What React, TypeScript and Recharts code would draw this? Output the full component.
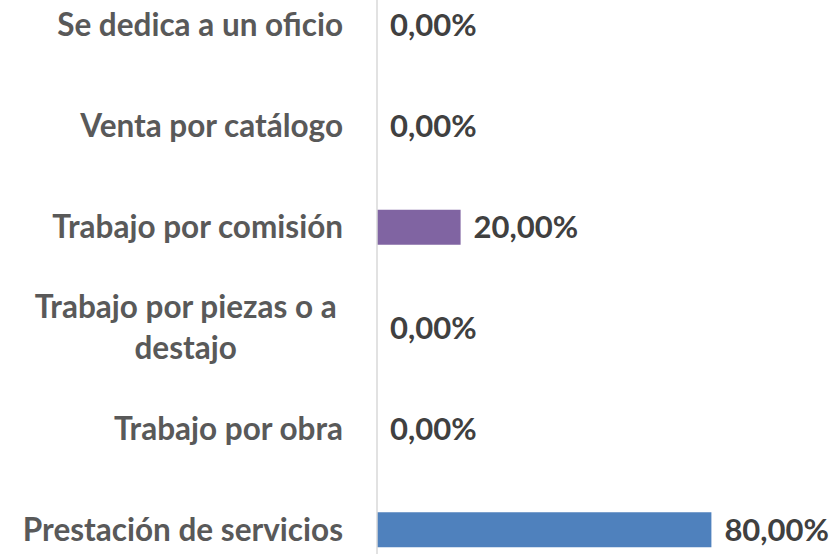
import React from 'react';
import { BarChart, Bar, XAxis, YAxis, Cell, LabelList } from 'recharts';

const CATEGORIES = [
  'Se dedica a un oficio',
  'Venta por catálogo',
  'Trabajo por comisión',
  'Trabajo por piezas o a destajo',
  'Trabajo por obra',
  'Prestación de servicios',
];

const VALUES = [0, 0, 20, 0, 0, 80];

const BAR_COLORS = ['#F79646', '#4BACC6', '#8064A2', '#9BBB59', '#C0504D', '#4F81BD'];

const data = CATEGORIES.map((name, i) => ({ name, value: VALUES[i] }));

const FONT = 'Lato, "Open Sans", sans-serif';
const LABEL_SIZE = 31.5;
const VALUE_SIZE = 31;
const MAX_LABEL_WIDTH = 330;

let measureCtx: CanvasRenderingContext2D | null = null;
const measure = (text: string) => {
  if (!measureCtx) {
    measureCtx = document.createElement('canvas').getContext('2d');
  }
  if (!measureCtx) return text.length * LABEL_SIZE * 0.5;
  measureCtx.font = `bold ${LABEL_SIZE}px Lato`;
  return measureCtx.measureText(text).width;
};

const wrap = (text: string) => {
  const words = text.split(' ');
  const lines: string[] = [];
  let cur = '';
  words.forEach(w => {
    const next = cur ? `${cur} ${w}` : w;
    if (cur && measure(next) > MAX_LABEL_WIDTH) {
      lines.push(cur);
      cur = w;
    } else {
      cur = next;
    }
  });
  if (cur) lines.push(cur);
  return lines;
};

const CategoryTick = (props: any) => {
  const { x, y, payload } = props;
  const lines = wrap(String(payload.value));
  const right = x - 26;
  const lineHeight = 41;
  if (lines.length === 1) {
    return (
      <text
        x={right}
        y={y}
        dy='0.35em'
        textAnchor='end'
        fill='#595959'
        fontSize={LABEL_SIZE}
        fontWeight='bold'
        fontFamily={FONT}
      >
        {lines[0]}
      </text>
    );
  }
  const maxW = Math.max(...lines.map(measure));
  const cx = right - 6 - maxW / 2;
  const startY = y - ((lines.length - 1) * lineHeight) / 2;
  return (
    <text
      textAnchor='middle'
      fill='#595959'
      fontSize={LABEL_SIZE}
      fontWeight='bold'
      fontFamily={FONT}
    >
      {lines.map((l, i) => (
        <tspan key={i} x={cx} y={startY + i * lineHeight} dy='0.35em'>
          {l}
        </tspan>
      ))}
    </text>
  );
};

const ValueLabel = (props: any) => {
  const { x, y, width, height, value } = props;
  const text = `${Number(value).toFixed(2).replace('.', ',')}%`;
  const w = Number(value) === 0 ? 0 : Number(width || 0);
  return (
    <text
      x={Number(x) + w + 13}
      y={Number(y) + Number(height) / 2}
      dy='0.35em'
      textAnchor='start'
      fill='#404040'
      fontSize={VALUE_SIZE}
      fontWeight='bold'
      fontFamily={FONT}
    >
      {text}
    </text>
  );
};

const App = () => {
  return (
    <div
      style={{
        position: 'absolute',
        left: 0,
        top: 0,
        width: 833,
        height: 554,
        overflow: 'hidden',
        background: '#ffffff',
      }}
    >
      <div style={{ position: 'absolute', left: 0, top: -25 }}>
        <BarChart
          width={833}
          height={605}
          data={data}
          layout='vertical'
          margin={{ top: 0, right: 38, left: 0, bottom: 0 }}
          barSize={35}
        >
          <XAxis type='number' domain={[0, 100]} hide />
          <Bar dataKey='value' isAnimationActive={false} minPointSize={0.01}>
            {data.map((entry, index) => (
              <Cell
                key={`cell-${index}`}
                fill={entry.value === 0 ? 'none' : BAR_COLORS[index]}
              />
            ))}
            <LabelList dataKey='value' content={<ValueLabel />} />
          </Bar>
          <YAxis
            type='category'
            dataKey='name'
            width={377}
            axisLine={{ stroke: '#D9D9D9', strokeWidth: 1.5 }}
            tickLine={false}
            tick={<CategoryTick />}
            interval={0}
          />
        </BarChart>
      </div>
    </div>
  );
};

export default App;
